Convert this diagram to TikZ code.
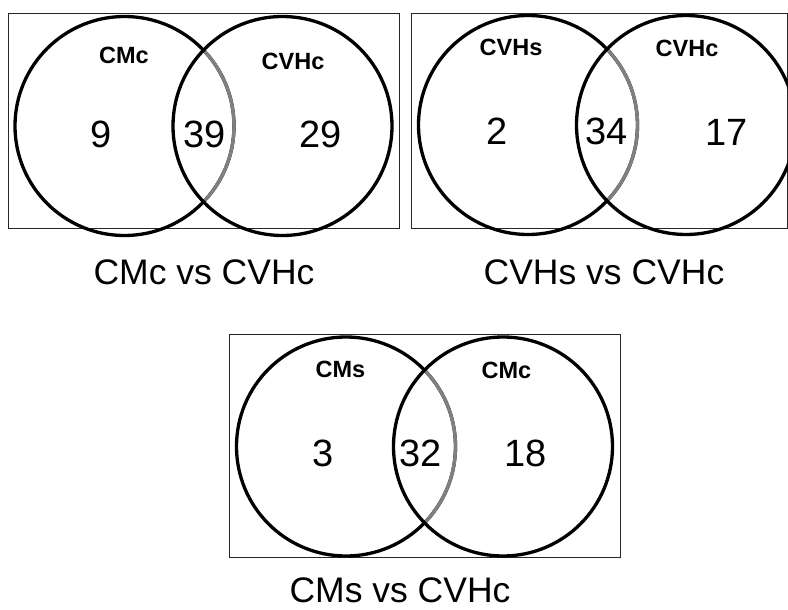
\documentclass[tikz,border=0pt]{standalone}
\usepackage{fontspec}
\setmainfont{Liberation Sans}
\begin{document}
\begin{tikzpicture}[x=1pt,y=-1pt,
		ring/.style={line width=3.3pt},
		overlap/.style={line width=3.3pt,color=gray},
		frame/.style={line width=0.9pt,color=black!85},
		setname/.style={inner sep=0pt,font=\fontsize{23.5}{23.5}\selectfont\bfseries},
		setnum/.style={inner sep=0pt,font=\fontsize{38}{38}\selectfont},
		caption/.style={inner sep=0pt,font=\fontsize{35.5}{35.5}\selectfont}]
		\useasboundingbox (0,0) rectangle (788,610);
		% CMc vs CVHc
		\draw[frame] (8,13) rectangle (399,228);
		\coordinate (cmcA) at (124.5,126);
		\coordinate (cvhcA) at (282.5,126);
		\draw[ring] (cmcA) circle (109.5pt);
		\begin{scope}
			\clip (cvhcA) circle (109.5pt);
			\draw[overlap] (cmcA) circle (109.5pt);
		\end{scope}
		\draw[ring] (cvhcA) circle (109.5pt);
		\node[setname] (cmcAname) at (124,55) {CMc};
		\node[setname] (cvhcAname) at (293,61.5) {CVHc};
		\node[setnum] (onlyA1) at (101,134) {9};
		\node[setnum] (bothA) at (204.5,134) {39};
		\node[setnum] (onlyA2) at (321,134) {29};
		\node[caption] (capA) at (204,272.5) {CMc vs CVHc};
		% CVHs vs CVHc
		\draw[frame] (411,13) rectangle (787,228);
		\coordinate (cvhsB) at (528,125);
		\coordinate (cvhcB) at (686,125);
		\draw[ring] (cvhsB) circle (109.5pt);
		\begin{scope}
			\clip (cvhcB) circle (109.5pt);
			\draw[overlap] (cvhsB) circle (109.5pt);
		\end{scope}
		\draw[ring] (cvhcB) circle (109.5pt);
		\node[setname] (cvhsBname) at (511,47) {CVHs};
		\node[setname] (cvhcBname) at (687,48.5) {CVHc};
		\node[setnum] (onlyB1) at (497,131.5) {2};
		\node[setnum] (bothB) at (607,131.5) {34};
		\node[setnum] (onlyB2) at (727,132) {17};
		\node[caption] (capB) at (604,272.5) {CVHs vs CVHc};
		% CMs vs CVHc
		\draw[frame] (229,334) rectangle (620,557);
		\coordinate (cmsC) at (346,446.5);
		\coordinate (cmcC) at (503,446.5);
		\draw[ring] (cmsC) circle (109.5pt);
		\begin{scope}
			\clip (cmcC) circle (109.5pt);
			\draw[overlap] (cmsC) circle (109.5pt);
		\end{scope}
		\draw[ring] (cmcC) circle (109.5pt);
		\node[setname] (cmsCname) at (340.5,369.5) {CMs};
		\node[setname] (cmcCname) at (506.5,370.5) {CMc};
		\node[setnum] (onlyC1) at (323,453.5) {3};
		\node[setnum] (bothC) at (420.5,453.5) {32};
		\node[setnum] (onlyC2) at (526,453.5) {18};
		\node[caption] (capC) at (400,590) {CMs vs CVHc};
		\end{tikzpicture}
\end{document}
